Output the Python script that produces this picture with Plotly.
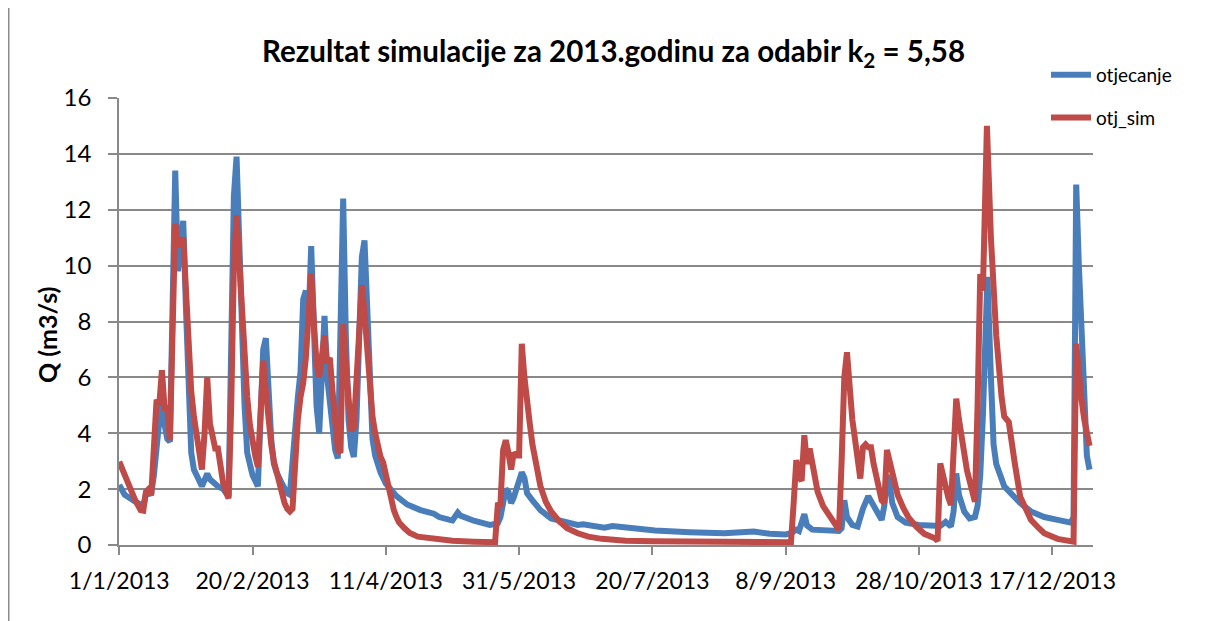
import pandas as pd
import plotly.graph_objects as go

# ---- data (day of year offset from 1/1/2013, discharge in m3/s) ----
obs_day = [0, 2, 6, 8, 9, 10, 12, 13, 14, 15, 16, 17, 18, 19, 20, 21, 22, 23, 24, 25, 26, 27, 28, 30, 31,
           33, 34, 37, 39, 41, 42, 43, 44, 45, 46, 47, 48, 49, 50, 52, 53, 54, 55, 56, 57, 58, 59, 61, 62,
           63, 64, 65, 66, 67, 68, 69, 70, 71, 72, 73, 74, 75, 76, 77, 78, 79, 80, 81, 82, 83, 84, 85,
           86, 87, 88, 89, 90, 91, 92, 93, 94, 95, 96, 98, 100, 104, 108, 113, 118, 120, 124, 125, 127,
           128, 133, 139, 141, 142, 143, 145, 146, 147, 148, 150, 151, 152, 153, 155, 158, 162, 167, 172,
           174, 176, 182, 185, 190, 201, 214, 227, 238, 244, 250, 252, 254, 255, 257, 258, 260, 265, 270,
           271, 272, 273, 275, 277, 279, 281, 283, 286, 287, 288, 289, 290, 292, 295, 300, 305, 308, 310,
           312, 313, 314, 315, 317, 319, 321, 322, 323, 324, 325, 325.7, 327, 328, 329, 330, 332, 334, 338,
           342, 347, 352, 357, 358, 359, 360, 361, 362, 363, 364]
obs_q = [2.15, 1.8, 1.55, 1.45, 1.4, 1.8, 1.85, 2.5, 3.6, 4.5, 5.4, 4.3, 3.8, 3.7, 9.0, 13.4, 9.8, 10.5, 11.6,
         8.5, 5.5, 3.3, 2.7, 2.3, 2.1, 2.55, 2.35, 2.1, 2.0, 1.75, 6.0, 12.5, 13.9, 11.0, 7.0, 5.0, 3.3,
         2.9, 2.5, 2.1, 4.5, 7.0, 7.4, 5.0, 3.8, 2.9, 2.6, 2.2, 2.0, 1.85, 1.8, 3.0, 4.5, 5.3, 6.2, 8.8,
         9.1, 8.0, 10.7, 8.0, 5.0, 4.0, 6.0, 8.2, 6.0, 5.0, 4.0, 3.4, 3.1, 7.0, 12.4, 7.5, 4.5, 3.5,
         3.15, 4.5, 8.0, 10.3, 10.9, 8.0, 5.5, 3.8, 3.2, 2.6, 2.2, 1.75, 1.45, 1.25, 1.12, 1.0, 0.9, 0.88,
         1.16, 1.05, 0.87, 0.72, 0.75, 0.78, 1.0, 2.0, 1.9, 1.5, 1.7, 2.2, 2.6, 2.4, 1.85, 1.6, 1.25, 0.95,
         0.83, 0.72, 0.74, 0.7, 0.62, 0.68, 0.62, 0.52, 0.46, 0.42, 0.48, 0.4, 0.38, 0.42, 0.55, 0.5, 1.1,
         0.7, 0.55, 0.5, 0.5, 0.6, 1.6, 1.0, 0.72, 0.66, 1.3, 1.75, 1.4, 0.9, 1.4, 2.5, 2.2, 1.5, 1.0, 0.8,
         0.72, 0.68, 0.68, 0.83, 0.66, 1.2, 2.56, 1.8, 1.2, 0.95, 1.0, 1.4, 2.5, 4.65, 8.9, 9.6, 6.0,
         3.6, 2.9, 2.6, 2.1, 1.9, 1.5, 1.2, 1.0, 0.9, 0.8, 1.0, 12.9, 10.0, 7.3, 4.4, 3.2, 2.7]

sim_day = [0, 2, 4, 6, 8, 9, 10, 11, 12, 13, 14, 15, 16, 17, 18, 19, 20, 21, 22, 23, 24, 25, 26, 27, 28,
           29, 30, 31, 32, 33, 34, 35, 36, 37, 38, 39, 40, 41, 42, 43, 44, 45, 46, 47, 48, 49, 50, 51,
           52, 53, 54, 55, 56, 57, 58, 59, 60, 61, 62, 63, 64, 65, 66, 67, 68, 69, 70, 71, 72, 73, 74,
           75, 76, 77, 78, 79, 80, 81, 82, 83, 84, 85, 86, 87, 88, 89, 90, 91, 92, 93, 94, 95, 96, 97,
           98, 99, 100, 101, 102, 103, 104, 105, 107, 109, 112, 114, 117, 120, 125, 133, 141, 142, 143,
           144, 145, 146, 147, 148, 149, 150, 151, 152, 153, 154, 155, 156, 157, 158, 160, 162, 165, 168,
           172, 176, 181, 190, 200, 215, 230, 245, 252, 253, 254, 255, 256, 257, 258, 259, 260, 261, 262,
           264, 266, 268, 270, 271, 272, 273, 274, 275, 276, 277, 278, 279, 280, 281, 282, 283, 284, 285,
           286, 287, 288, 289, 290, 291, 292, 294, 296, 299, 302, 306, 307, 308, 309, 310, 311, 312, 313,
           314, 315, 316, 317, 318, 319, 320, 321, 322, 323, 324, 325.5, 327, 329, 331, 332, 333.7, 335,
           336, 338, 340, 342, 345, 347, 352, 357, 358, 359, 360, 361, 362, 363, 364]
sim_q = [2.98, 2.5, 2.0, 1.6, 1.25, 1.23, 1.9, 2.0, 1.8, 3.5, 5.2, 5.0, 6.26, 4.9, 4.9, 3.75, 7.0, 11.5,
         10.7, 10.8, 11.0, 9.0, 7.0, 5.5, 4.6, 4.0, 3.3, 2.7, 4.0, 6.0, 4.35, 3.8, 3.45, 3.45, 2.8, 2.2,
         1.9, 1.67, 5.0, 10.0, 11.8, 10.0, 8.0, 6.5, 5.3, 4.3, 3.6, 3.2, 2.8, 4.5, 6.6, 5.5, 4.4, 3.6,
         3.0, 2.6, 2.2, 1.8, 1.5, 1.3, 1.2, 1.3, 3.0, 4.5, 5.3, 5.8, 6.7, 8.0, 9.7, 8.0, 6.5, 6.0, 7.0,
         7.5, 6.5, 6.7, 5.5, 4.3, 3.4, 3.3, 7.9, 6.5, 5.3, 4.1, 4.2, 6.2, 8.0, 9.3, 8.3, 7.0, 5.8, 4.6,
         4.0, 3.5, 3.16, 2.95, 2.5, 2.0, 1.6, 1.25, 1.0, 0.8, 0.6, 0.43, 0.3, 0.28, 0.24, 0.19, 0.15,
         0.12, 0.1, 1.43, 1.45, 3.4, 3.75, 3.3, 2.7, 3.3, 3.2, 3.2, 7.2, 6.0, 5.0, 4.35, 3.6, 3.0, 2.6,
         2.1, 1.55, 1.2, 0.85, 0.6, 0.42, 0.3, 0.22, 0.15, 0.13, 0.12, 0.11, 0.1, 0.1, 1.5, 3.04, 2.44,
         2.3, 3.93, 2.9, 3.45, 3.0, 2.5, 1.9, 1.4, 1.1, 0.8, 0.54, 3.0, 6.0, 6.9, 5.3, 4.5, 3.8, 3.0,
         2.38, 3.5, 3.6, 3.5, 3.5, 2.9, 2.5, 2.0, 1.6, 1.5, 3.4, 3.0, 2.6, 2.1, 1.8, 1.35, 1.0, 0.66, 0.4,
         0.24, 0.15, 2.92, 2.5, 2.0, 1.7, 1.43, 3.5, 5.24, 4.5, 3.8, 3.2, 2.68, 2.3, 2.0, 1.55, 5.0, 9.7,
         9.1, 15.0, 11.0, 7.5, 5.3, 4.6, 4.4, 3.4, 2.9, 1.73, 1.25, 0.9, 0.6, 0.42, 0.22, 0.12, 0.12, 7.2,
         6.0, 5.2, 4.5, 3.9, 3.55]

tick_days = [0, 50, 100, 150, 200, 250, 300, 350]
tick_labels = ["1/1/2013", "20/2/2013", "11/4/2013", "31/5/2013", "20/7/2013", "8/9/2013",
               "28/10/2013", "17/12/2013"]
y_ticks = [0, 2, 4, 6, 8, 10, 12, 14, 16]

base = pd.Timestamp("2013-01-01")
def to_dates(days):
    return [base + pd.to_timedelta(d, unit="D") for d in days]

FONT = "Lato, 'Open Sans', sans-serif"
GRID = "#898989"

fig = go.Figure()
fig.add_trace(go.Scatter(x=to_dates(obs_day), y=obs_q, mode="lines", name="otjecanje",
                         legendgroup="a",
                         line=dict(color="#4A7EBB", width=6)))
fig.add_trace(go.Scatter(x=to_dates(sim_day), y=sim_q, mode="lines", name="otj_sim",
                         legendgroup="b",
                         line=dict(color="#BE4B48", width=6)))

# page body has an 8px margin, so figure coordinates are screen coordinates minus 8
OFF = 8
L, R, T, B = 119 - OFF, 1093 - OFF, 98 - OFF, 545 - OFF
W, H = 1214 - OFF, 621 - OFF
pw, ph = R - L, B - T

def px(x):
    return (x - OFF - L) / pw

def py(y):
    return (B - (y - OFF)) / ph

fig.update_layout(
    template="none",
    width=W, height=H,
    margin=dict(l=L, r=W - R, t=T, b=H - B, pad=0, autoexpand=False),
    paper_bgcolor="white", plot_bgcolor="white",
    font=dict(family=FONT, color="black"),
    showlegend=True,
    legend=dict(x=px(1046), y=py(56), xanchor="left", yanchor="top",
                font=dict(family=FONT, size=19, color="black"),
                bgcolor="rgba(0,0,0,0)", tracegroupgap=15, itemwidth=40),
    xaxis=dict(type="date", automargin=False,
               range=[base - pd.to_timedelta(0.1, unit="D"), base + pd.to_timedelta(365.3, unit="D")],
               tickvals=to_dates(tick_days), ticktext=tick_labels, tickangle=0,
               showgrid=False, showline=True, linecolor=GRID, linewidth=1.5,
               ticks="outside", ticklen=8, tickwidth=1.5, tickcolor=GRID,
               tickfont=dict(family=FONT, size=23, color="black"), ticklabelstandoff=7,
               zeroline=False),
    yaxis=dict(range=[0, 16], tickvals=y_ticks, showgrid=True, gridcolor=GRID, gridwidth=1.5,
               automargin=False,
               showline=True, linecolor=GRID, linewidth=1.5,
               ticks="outside", ticklen=9, tickwidth=1.5, tickcolor=GRID,
               tickfont=dict(family=FONT, size=24, color="black"), ticklabelstandoff=12,
               zeroline=False),
    annotations=[
        dict(text="<b>Rezultat simulacije za 2013.godinu za odabir k<sub>2</sub> = 5,58</b>",
             xref="paper", yref="paper", x=px(613.5), y=py(52),
             xanchor="center", yanchor="middle", showarrow=False,
             font=dict(family=FONT, size=29.5, color="black")),
        dict(text="<b>Q (m3/s)</b>", xref="paper", yref="paper",
             x=px(47), y=py(335), xanchor="center", yanchor="middle",
             textangle=-90, showarrow=False, font=dict(family=FONT, size=25, color="black")),
    ],
    shapes=[dict(type="line", xref="paper", yref="paper", x0=px(8.75), x1=px(8.75),
                 y0=py(621), y1=py(8), line=dict(color="#8c8c8c", width=1.5))],
)

fig.write_html("out.html")
